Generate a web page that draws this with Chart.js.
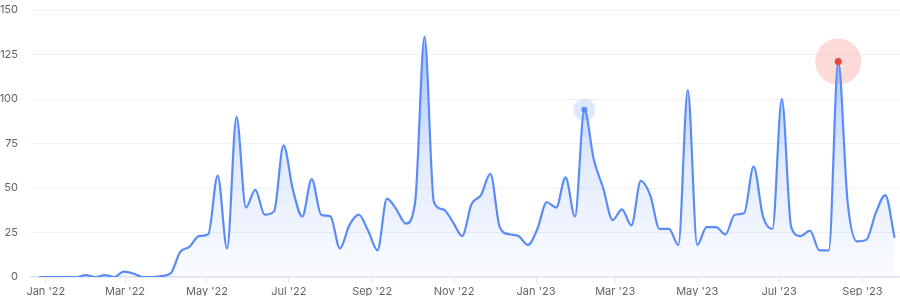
<!DOCTYPE html>
<html>
<head>
<meta charset="utf-8">
<script src="https://cdn.jsdelivr.net/npm/chart.js@4"></script>
<style>
  html, body { margin: 0; padding: 0; background: #fff; }
  #wrap { width: 900px; height: 296px; position: relative; }
</style>
</head>
<body>
<div id="wrap"><canvas id="trendChart"></canvas></div>
<script>
// weekly series, first point is the week of 27 Dec 2021
const firstWeek = '2021-12-27';
const weeklyValues = [
  0, 0, 0, 0, 0, 1, 0, 1, 0, 3,
  2, 0, 0, 0.5, 2, 14, 17, 23, 24, 57,
  16, 90, 39, 49, 35, 37, 74, 49, 34, 55,
  35, 34, 16, 29, 35, 26, 15, 44, 38, 30,
  42, 135, 42, 38, 31, 23, 41, 46, 58, 28,
  24, 23, 18, 27, 42, 39, 56, 34, 94, 66,
  50, 32, 38, 29, 54, 46, 27, 27, 18, 105,
  18, 28, 28, 24, 35, 36, 62, 34, 27, 100,
  28, 23, 26, 15, 15, 121, 42, 20, 21, 36,
  46, 22
];

// x axis month ticks
const tickDates = ['2022-01-01', '2022-03-01', '2022-05-01', '2022-07-01', '2022-09-01', '2022-11-01',
                   '2023-01-01', '2023-03-01', '2023-05-01', '2023-07-01', '2023-09-01'];
const tickLabels = ["Jan '22", "Mar '22", "May '22", "Jul '22", "Sep '22", "Nov '22",
                    "Jan '23", "Mar '23", "May '23", "Jul '23", "Sep '23"];
const yTickValues = [0, 25, 50, 75, 100, 125, 150];

// highlighted weeks
const highlightIdx = [58, 85];
const haloColors = ['rgba(92,140,250,0.2)', 'rgba(238,100,90,0.24)'];
const dotColors = ['#5a8cf8', '#e8463d'];

const DAY = 86400000;
const origin = Date.parse('2022-01-01');
function dayOf(s) { return (Date.parse(s) - origin) / DAY; }

const start = dayOf(firstWeek);
const points = weeklyValues.map((v, i) => ({ x: start + i * 7, y: v }));
const tickDays = tickDates.map(dayOf);
const marks = highlightIdx.map(i => points[i]);

const lineColor = '#5a8cf8';

const ctx = document.getElementById('trendChart').getContext('2d');

const trendChart = new Chart(ctx, {
  type: 'line',
  data: {
    datasets: [
      {
        data: points,
        borderColor: lineColor,
        borderWidth: 2.2,
        pointRadius: 0,
        cubicInterpolationMode: 'monotone',
        fill: 'origin',
        order: 2,
        backgroundColor: function(context) {
          const area = context.chart.chartArea;
          if (!area) return 'rgba(90,140,248,0.2)';
          const g = context.chart.ctx.createLinearGradient(0, area.top, 0, area.bottom);
          g.addColorStop(0, 'rgba(90,140,248,0.62)');
          g.addColorStop(0.55, 'rgba(90,140,248,0.18)');
          g.addColorStop(1, 'rgba(90,140,248,0.03)');
          return g;
        }
      },
      {
        // halos
        data: marks,
        showLine: false,
        pointRadius: [11, 23],
        pointBackgroundColor: haloColors,
        pointBorderWidth: 0,
        clip: false,
        order: 3
      },
      {
        // dots
        data: marks,
        showLine: false,
        pointRadius: [3, 3.5],
        pointBackgroundColor: dotColors,
        pointBorderWidth: 0,
        order: 1
      }
    ]
  },
  options: {
    responsive: true,
    maintainAspectRatio: false,
    animation: false,
    events: [],
    plugins: {
      legend: { display: false },
      tooltip: { enabled: false }
    },
    layout: {
      autoPadding: false,
      padding: { top: 10, right: 0, bottom: 0, left: 0 }
    },
    scales: {
      x: {
        type: 'linear',
        min: -11,
        max: 636,
        afterBuildTicks: function(scale) {
          scale.ticks = tickDays.map(v => ({ value: v }));
        },
        afterFit: function(scale) {
          scale.height = 19;
          scale.paddingLeft = 0;
          scale.paddingRight = 0;
        },
        ticks: {
          autoSkip: false,
          maxRotation: 0,
          padding: 2,
          color: '#5f6368',
          font: { family: 'Inter', size: 11 },
          callback: function(value, index) { return tickLabels[index]; }
        },
        grid: {
          drawOnChartArea: false,
          drawTicks: true,
          tickLength: 6,
          color: '#dfe5f2'
        },
        border: { color: '#dfe5f2', width: 1.5 }
      },
      y: {
        min: 0,
        max: 150,
        afterBuildTicks: function(scale) {
          scale.ticks = yTickValues.map(v => ({ value: v }));
        },
        afterFit: function(scale) {
          scale.width = 31;
          scale.paddingTop = 0;
          scale.paddingBottom = 0;
        },
        ticks: {
          padding: 13,
          color: '#5f6368',
          font: { family: 'Inter', size: 11 }
        },
        grid: {
          drawTicks: false,
          color: '#eff1f5'
        },
        border: { display: false }
      }
    }
  }
});
</script>
</body>
</html>
